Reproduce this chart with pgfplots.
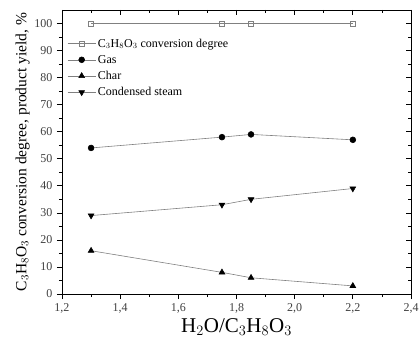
\documentclass[border=0pt]{standalone}
\usepackage{fontspec}
\setmainfont{Liberation Serif}
\usepackage{pgfplots}
\pgfplotsset{compat=1.18}
\pgfplotsset{base/.style={
  at={(0pt,0pt)}, anchor=south west,
  scale only axis, width=349pt, height=284pt,
  xmin=1.2, xmax=2.4, ymin=0, ymax=105,
  xtick={1.2,1.4,...,2.41}, ytick={0,10,...,100},
  minor x tick num=1, minor y tick num=1,
  major tick length=5pt, minor tick length=3pt,
  axis line style={line width=0.8pt},
  every tick/.style={line width=0.7pt, black},
}}
\begin{document}
\begin{tikzpicture}
\useasboundingbox (-62pt,-51pt) rectangle (358pt,294pt);
\begin{axis}[base,
  tick align=inside, xtick pos=right, ytick pos=right,
  xticklabels={}, yticklabels={},
]
\end{axis}
\begin{axis}[base,
  tick align=outside, xtick pos=left, ytick pos=left,
  /pgf/number format/assume math mode=true,
  xticklabel style={/pgf/number format/fixed, /pgf/number format/fixed zerofill, /pgf/number format/precision=1, /pgf/number format/use comma, yshift=-1pt},
  ticklabel style={font=\fontsize{12}{14}\selectfont, text=black!75},
  yticklabel style={xshift=-1pt},
  xlabel={H$_2$O/C$_3$H$_8$O$_3$},
  ylabel={C$_3$H$_8$O$_3$ conversion degree, product yield, \%},
  xlabel style={font=\fontsize{21}{24}\selectfont, yshift=2pt},
  ylabel style={font=\fontsize{15.5}{18}\selectfont, yshift=-2pt},
  legend style={draw=none, fill=none, at={(0.012,0.91)}, anchor=north west,
    font=\fontsize{12}{13}\selectfont, row sep=2.5pt, inner sep=1pt},
  legend cell align=left,
  legend image code/.code={\draw[#1, mark repeat=2, mark phase=2] plot coordinates {(0pt,0pt)(14pt,0pt)(28pt,0pt)};},
]
\addplot[gray, line width=0.6pt, mark=square, mark size=2.6pt, mark options={gray, fill=white, line width=0.6pt}]
  coordinates {(1.3,100)(1.75,100)(1.85,100)(2.2,100)};
\addlegendentry{C$_3$H$_8$O$_3$ conversion degree}
\addplot[gray, line width=0.6pt, mark=*, mark size=2.9pt, mark options={black, fill=black}]
  coordinates {(1.3,54)(1.75,58)(1.85,59)(2.2,57)};
\addlegendentry{Gas}
\addplot[gray, line width=0.6pt, mark=triangle*, mark size=3.3pt, mark options={black, fill=black}]
  coordinates {(1.3,16)(1.75,8)(1.85,6)(2.2,3)};
\addlegendentry{Char}
\addplot[gray, line width=0.6pt, mark=triangle*, mark size=3.3pt, mark options={black, fill=black, rotate=180}]
  coordinates {(1.3,29)(1.75,33)(1.85,35)(2.2,39)};
\addlegendentry{Condensed steam}
\end{axis}
\end{tikzpicture}
\end{document}
